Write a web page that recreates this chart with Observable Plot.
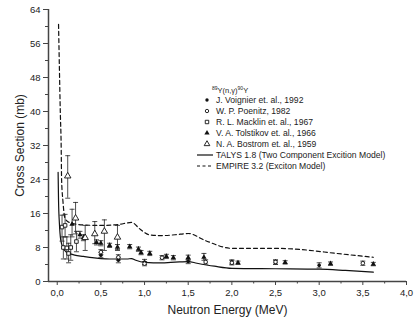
<!DOCTYPE html>
<html>
<head>
<meta charset="utf-8">
<script src="https://cdn.jsdelivr.net/npm/d3@7"></script>
<script src="https://cdn.jsdelivr.net/npm/@observablehq/plot@0.6"></script>
<style>
  body { margin: 0; background: #fff; }
  #chart { width: 416px; height: 325px; }
  #chart svg { font-family: "Liberation Sans", Arial, sans-serif; }
</style>
</head>
<body>
<div id="chart"></div>
<script>
// 89Y(n,γ)90Y capture cross section: measurements and model calculations

// TALYS 1.8 (two component exciton model)
const talysE  = [0.01, 0.015, 0.025, 0.04, 0.07, 0.1, 0.15, 0.2, 0.3, 0.4, 0.5, 0.6, 0.7, 0.8, 0.85, 0.9, 1.0, 1.1, 1.2, 1.3, 1.4, 1.5, 1.6, 1.8, 2.0, 2.5, 3.0, 3.3, 3.62];
const talysXS = [25.7, 19.0, 13.6, 9.8, 7.8, 7.0, 6.5, 6.2, 5.9, 5.6, 5.4, 5.3, 5.3, 5.3, 5.4, 5.0, 4.5, 4.4, 4.4, 4.5, 4.6, 4.7, 4.3, 3.6, 3.1, 3.0, 2.9, 2.6, 2.2];

// EMPIRE 3.2 (exciton model)
const empireE  = [0.015, 0.025, 0.035, 0.045, 0.05, 0.065, 0.09, 0.15, 0.3, 0.5, 0.7, 0.85, 0.95, 1.05, 1.2, 1.35, 1.5, 1.7, 2.0, 2.5, 2.8, 3.2, 3.62];
const empireXS = [60.5, 50.0, 40.0, 32.0, 24.0, 19.0, 14.8, 13.8, 13.3, 13.2, 13.4, 13.9, 12.3, 11.0, 10.8, 11.0, 11.3, 9.6, 7.8, 7.8, 7.5, 6.6, 5.7];

// J. Voignier et al., 1992
const voignierE  = [0.5, 0.7, 1.0, 1.5, 2.0, 2.5, 3.0];
const voignierXS = [6.2, 5.0, 4.6, 4.7, 4.6, 4.5, 3.8];
const voignierLo = [5.6, 4.4, 4.0, 4.2, 4.1, 4.0, 3.2];
const voignierHi = [6.8, 5.6, 5.2, 5.2, 5.1, 5.0, 4.4];

// W. P. Poenitz, 1982
const poenitzE  = [0.5, 0.7, 1.0, 1.2, 1.7, 2.0, 2.5, 3.5];
const poenitzXS = [6.9, 5.7, 4.2, 5.6, 4.6, 4.4, 4.6, 4.3];
const poenitzLo = [6.3, 5.1, 3.7, 5.1, 4.1, 3.9, 4.1, 3.8];
const poenitzHi = [7.5, 6.3, 4.7, 6.1, 5.1, 4.9, 5.1, 4.8];

// R. L. Macklin et al., 1967
const macklinE  = [0.055, 0.07, 0.09, 0.11, 0.13, 0.155, 0.22];
const macklinXS = [12.8, 8.0, 13.2, 7.9, 6.6, 8.0, 9.4];
const macklinLo = [9.5, 5.3, 10.5, 5.3, 4.4, 5.0, 7.0];
const macklinHi = [15.6, 10.5, 15.8, 10.5, 9.0, 11.0, 11.8];

// V. A. Tolstikov et al., 1966
const tolstikovE  = [0.17, 0.26, 0.30, 0.45, 0.5, 0.6, 0.69, 0.83, 0.93, 0.96, 1.06, 1.25, 1.33, 1.5, 1.68, 2.07, 2.61, 3.13, 3.62];
const tolstikovXS = [13.5, 11.0, 10.3, 9.2, 9.0, 8.5, 8.1, 8.2, 7.6, 6.8, 6.6, 5.9, 5.6, 5.6, 5.7, 4.4, 4.5, 4.2, 4.1];
const tolstikovLo = [10.5, 10.2, 9.6, 8.6, 8.4, 8.0, 7.5, 7.7, 7.1, 6.3, 6.1, 5.4, 5.1, 5.0, 5.0, 4.0, 4.1, 3.8, 3.7];
const tolstikovHi = [17.0, 11.8, 11.0, 9.8, 9.6, 9.0, 8.7, 8.7, 8.1, 7.3, 7.1, 6.4, 6.1, 6.2, 6.6, 4.8, 4.9, 4.6, 4.5];

// N. A. Bostrom et al., 1959
const bostromE  = [0.12, 0.21, 0.32, 0.43, 0.54, 0.69];
const bostromXS = [24.8, 14.9, 10.3, 11.2, 11.8, 10.4];
const bostromLo = [19.6, 11.2, 7.3, 8.9, 7.3, 7.3];
const bostromHi = [29.6, 18.6, 13.2, 14.1, 14.5, 13.2];

// Axis ticks
const xMajor = [0, 0.5, 1.0, 1.5, 2.0, 2.5, 3.0, 3.5, 4.0];
const xMinor = [0.25, 0.75, 1.25, 1.75, 2.25, 2.75, 3.25, 3.75];
const yMajor = [0, 8, 16, 24, 32, 40, 48, 56, 64];
const yMinor = [4, 12, 20, 28, 36, 44, 52, 60];

const xLabel = "Neutron Energy (MeV)";
const yLabel = "Cross Section (mb)";

const rows = (e, xs, lo, hi) => e.map((d, i) => ({e: d, xs: xs[i], lo: lo ? lo[i] : null, hi: hi ? hi[i] : null}));
const talys = rows(talysE, talysXS);
const empire = rows(empireE, empireXS);
const voignier = rows(voignierE, voignierXS, voignierLo, voignierHi);
const poenitz = rows(poenitzE, poenitzXS, poenitzLo, poenitzHi);
const macklin = rows(macklinE, macklinXS, macklinLo, macklinHi);
const tolstikov = rows(tolstikovE, tolstikovXS, tolstikovLo, tolstikovHi);
const bostrom = rows(bostromE, bostromXS, bostromLo, bostromHi);

// Horizontal cap used at both ends of an error bar
const capSymbol = { draw(ctx) { ctx.moveTo(-2.5, 0); ctx.lineTo(2.5, 0); } };

const errorBars = (data) => [
  Plot.ruleX(data, {x: "e", y1: "lo", y2: "hi", stroke: "#222", strokeWidth: 0.8}),
  Plot.dot(data, {x: "e", y: "lo", symbol: capSymbol, stroke: "#222", strokeWidth: 0.8}),
  Plot.dot(data, {x: "e", y: "hi", symbol: capSymbol, stroke: "#222", strokeWidth: 0.8})
];

const fmt = d => d.toFixed(1).replace(".", ",");

const chart = Plot.plot({
  width: 416,
  height: 325,
  marginLeft: 48,
  marginRight: 10,
  marginTop: 9,
  marginBottom: 44,
  x: {domain: [-0.1, 4.0], axis: null},
  y: {domain: [0, 64], axis: null},
  style: {fontFamily: "'Liberation Sans', Arial, sans-serif", color: "#222", background: "#fff"},
  marks: [
    Plot.axisX(xMajor, {tickSize: 4, tickPadding: 4, tickFormat: fmt, fontSize: 9.5, label: null, stroke: "#444"}),
    Plot.axisX(xMinor, {tickSize: 2.5, tickFormat: () => "", label: null, stroke: "#444"}),
    Plot.axisY(yMajor, {tickSize: 5, tickPadding: 3, tickFormat: d => String(d), fontSize: 9.5, label: null, stroke: "#444"}),
    Plot.axisY(yMinor, {tickSize: 3, tickFormat: () => "", label: null, stroke: "#444"}),
    Plot.ruleX([-0.1], {stroke: "#444", strokeWidth: 1.5}),
    Plot.ruleY([0], {stroke: "#444", strokeWidth: 1.5}),
    Plot.text([xLabel], {frameAnchor: "bottom", dy: 29, fontSize: 12, textAnchor: "middle", lineAnchor: "middle", fill: "#222"}),
    Plot.text([yLabel], {frameAnchor: "left", dx: -28, rotate: -90, fontSize: 12, textAnchor: "middle", lineAnchor: "middle", fill: "#222"}),

    Plot.line(talys, {x: "e", y: "xs", stroke: "#111", strokeWidth: 1.2, curve: "monotone-x"}),
    Plot.line(empire, {x: "e", y: "xs", stroke: "#111", strokeWidth: 1.2, strokeDasharray: "4,3", curve: "monotone-x"}),

    ...errorBars(bostrom),
    ...errorBars(macklin),
    ...errorBars(tolstikov),
    ...errorBars(poenitz),
    ...errorBars(voignier),

    Plot.dot(voignier, {x: "e", y: "xs", symbol: "circle", r: 1.8, fill: "#111", stroke: "none"}),
    Plot.dot(poenitz, {x: "e", y: "xs", symbol: "circle", r: 1.8, fill: "#fff", stroke: "#111", strokeWidth: 0.9}),
    Plot.dot(macklin, {x: "e", y: "xs", symbol: "square", r: 2.0, fill: "#fff", stroke: "#111", strokeWidth: 0.9}),
    Plot.dot(tolstikov, {x: "e", y: "xs", symbol: "triangle", r: 2.0, fill: "#111", stroke: "none"}),
    Plot.dot(bostrom, {x: "e", y: "xs", symbol: "triangle", r: 2.4, fill: "#fff", stroke: "#111", strokeWidth: 0.9})
  ]
});

document.getElementById("chart").appendChild(chart);

// Legend block inside the plot area
const svg = d3.select(chart);
const lg = svg.append("g")
  .attr("font-family", "'Liberation Sans', Arial, sans-serif")
  .attr("font-size", 8.6)
  .attr("text-anchor", "start")
  .attr("fill", "#222");

const title = lg.append("text").attr("x", 212).attr("y", 93).attr("font-size", 7.5);
title.append("tspan").attr("font-size", 5).attr("dy", -3).text("89");
title.append("tspan").attr("dy", 3).text("Y(n,");
title.append("tspan").text("γ");
title.append("tspan").text(")");
title.append("tspan").attr("font-size", 5).attr("dy", -3).text("90");
title.append("tspan").attr("dy", 3).text("Y");

const entries = [
  {label: "J. Voignier et. al., 1992", sym: d3.symbolCircle, size: 9, fill: "#111", stroke: "none"},
  {label: "W. P. Poenitz, 1982", sym: d3.symbolCircle, size: 9, fill: "#fff", stroke: "#111"},
  {label: "R. L. Macklin et. al., 1967", sym: d3.symbolSquare, size: 12, fill: "#fff", stroke: "#111"},
  {label: "V. A. Tolstikov et. al., 1966", sym: d3.symbolTriangle, size: 12, fill: "#111", stroke: "none"},
  {label: "N. A. Bostrom et. al., 1959", sym: d3.symbolTriangle, size: 14, fill: "#fff", stroke: "#111"},
  {label: "TALYS 1.8 (Two Component Excition Model)", line: null},
  {label: "EMPIRE 3.2 (Exciton Model)", line: "3,2.5"}
];
entries.forEach((d, i) => {
  const y = 100 + i * 11;
  if (d.sym) {
    lg.append("path")
      .attr("d", d3.symbol(d.sym, d.size)())
      .attr("transform", `translate(207,${y})`)
      .attr("fill", d.fill).attr("stroke", d.stroke).attr("stroke-width", 0.9);
  } else {
    lg.append("line")
      .attr("x1", 197).attr("x2", 213).attr("y1", y).attr("y2", y)
      .attr("stroke", "#111").attr("stroke-width", 1.2)
      .attr("stroke-dasharray", d.line);
  }
  lg.append("text").attr("x", 216).attr("y", y).attr("dy", "0.35em").text(d.label);
});
</script>
</body>
</html>
